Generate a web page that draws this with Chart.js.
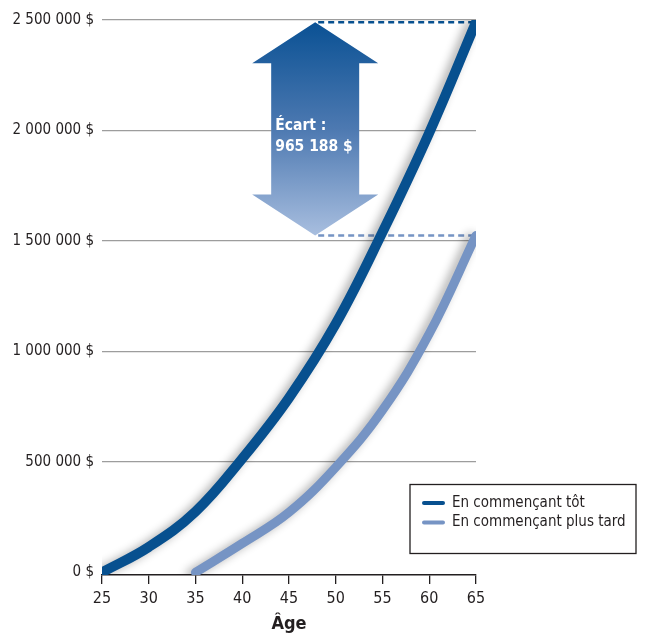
<!DOCTYPE html>
<html><head><meta charset="utf-8">
<script src="https://cdn.jsdelivr.net/npm/chart.js@4.4.0/dist/chart.umd.min.js"></script>
<style>html,body{margin:0;padding:0;background:#fff}#wrap{width:652px;height:635px;position:relative}</style>
</head><body><div id="wrap"><canvas id="c"></canvas></div>
<script>
// ---- data ----
const earlyAges = [25, 30, 35, 40, 45, 50, 55, 60, 65];
const earlyValues = [0, 115000, 275000, 515000, 790000, 1125000, 1540000, 1990000, 2490000];
const lateAges = [35, 40, 45, 50, 55, 60, 65];
const lateValues = [0, 131000, 272000, 476000, 734000, 1080000, 1524812];
const xTicks = [25, 30, 35, 40, 45, 50, 55, 60, 65];
const yTicks = [0, 500000, 1000000, 1500000, 2000000, 2500000];
const seriesLabels = ['En commençant tôt', 'En commençant plus tard'];
const gapLabel = ['Écart :', '965 188 $'];
const xTitle = 'Âge';

const FONT = "'Liberation Sans Narrow','Arial Narrow','DejaVu Sans Condensed',sans-serif";
const DARK = '#07508f';
const LIGHT = '#7694c4';
const TXT = '#231f20';

function fmt(n) { return String(n).replace(/\B(?=(\d{3})+(?!\d))/g, ' ') + ' $'; }

const shadowPlugin = {
  id: 'shadow',
  beforeDatasetDraw(chart) {
    const ctx = chart.ctx; ctx.save();
    ctx.shadowColor = 'rgba(0,0,0,0.32)'; ctx.shadowBlur = 10;
    ctx.shadowOffsetX = -5; ctx.shadowOffsetY = 2;
  },
  afterDatasetDraw(chart) { chart.ctx.restore(); }
};

const gapPlugin = {
  id: 'gap',
  beforeDatasetsDraw(chart) {
    const { ctx, scales: { x, y } } = chart;
    const topV = earlyValues[earlyValues.length - 1];
    const botV = lateValues[lateValues.length - 1];
    const yt = y.getPixelForValue(topV), yb = y.getPixelForValue(botV);
    const xe = x.getPixelForValue(earlyAges[earlyAges.length - 1]);
    const cx = x.getPixelForValue(47.8);
    const headH = 41, headW = 63, shaftW = 44;
    ctx.save();
    // dashed guides
    ctx.lineWidth = 2.5; ctx.setLineDash([6, 4]);
    ctx.strokeStyle = DARK;
    ctx.beginPath(); ctx.moveTo(cx + 3, yt); ctx.lineTo(xe, yt); ctx.stroke();
    ctx.strokeStyle = LIGHT;
    ctx.beginPath(); ctx.moveTo(cx + 3, yb); ctx.lineTo(xe, yb); ctx.stroke();
    ctx.setLineDash([]);
    // arrow
    const g = ctx.createLinearGradient(0, yt, 0, yb);
    g.addColorStop(0, '#0a5194'); g.addColorStop(0.5, '#4d79b1'); g.addColorStop(1, '#a8bedf');
    ctx.fillStyle = g;
    ctx.beginPath();
    ctx.moveTo(cx, yt);
    ctx.lineTo(cx + headW, yt + headH);
    ctx.lineTo(cx + shaftW, yt + headH);
    ctx.lineTo(cx + shaftW, yb - headH);
    ctx.lineTo(cx + headW, yb - headH);
    ctx.lineTo(cx, yb);
    ctx.lineTo(cx - headW, yb - headH);
    ctx.lineTo(cx - shaftW, yb - headH);
    ctx.lineTo(cx - shaftW, yt + headH);
    ctx.lineTo(cx - headW, yt + headH);
    ctx.closePath(); ctx.fill();
    // text
    ctx.fillStyle = '#ffffff';
    ctx.font = "bold 15.5px " + FONT;
    ctx.textAlign = 'left'; ctx.textBaseline = 'alphabetic';
    const mid = (yt + yb) / 2;
    ctx.fillText(gapLabel[0], cx - 40, mid + 1);
    ctx.fillText(gapLabel[1], cx - 40, mid + 22);
    ctx.restore();
  }
};

const legendPlugin = {
  id: 'boxLegend',
  afterDraw(chart) {
    const ctx = chart.ctx;
    ctx.save();
    ctx.strokeStyle = '#231f20'; ctx.lineWidth = 1.3;
    ctx.strokeRect(410, 484.5, 226, 69);
    const items = chart.data.datasets;
    items.forEach((ds, i) => {
      const yy = 503 + i * 19.5;
      ctx.strokeStyle = ds.borderColor; ctx.lineWidth = 4; ctx.lineCap = 'round';
      ctx.beginPath(); ctx.moveTo(424, yy); ctx.lineTo(443, yy); ctx.stroke();
      ctx.fillStyle = TXT; ctx.font = "15px " + FONT;
      ctx.textAlign = 'left'; ctx.textBaseline = 'middle';
      ctx.fillText(ds.label, 452, yy);
    });
    ctx.restore();
  }
};

new Chart(document.getElementById('c'), {
  type: 'line',
  data: {
    datasets: [
      { label: seriesLabels[0], data: earlyAges.map((a, i) => ({ x: a, y: earlyValues[i] })),
        borderColor: DARK, borderWidth: 10, borderCapStyle: 'round', borderJoinStyle: 'round',
        pointRadius: 0, tension: 0.4, fill: false },
      { label: seriesLabels[1], data: lateAges.map((a, i) => ({ x: a, y: lateValues[i] })),
        borderColor: LIGHT, borderWidth: 9, borderCapStyle: 'round', borderJoinStyle: 'round',
        pointRadius: 0, tension: 0.4, fill: false }
    ]
  },
  options: {
    responsive: true, maintainAspectRatio: false, animation: false,
    layout: { padding: { top: 20, right: 176, bottom: 0, left: 0 } },
    plugins: { legend: { display: false }, tooltip: { enabled: false } },
    scales: {
      x: {
        type: 'linear', min: 25, max: 65,
        afterBuildTicks(ax) { ax.ticks = xTicks.map(v => ({ value: v })); },
        afterFit(ax) { ax.height = 60; },
        grid: { drawOnChartArea: false, drawTicks: true, tickLength: 9, color: '#231f20', lineWidth: 1.3 },
        border: { display: true, color: '#231f20', width: 1.5 },
        ticks: { color: TXT, font: { family: FONT, size: 16 }, padding: 5, maxRotation: 0 },
        title: { display: true, text: xTitle, color: TXT, font: { family: FONT, size: 18, weight: 'bold' }, padding: { top: 0, bottom: 0 } }
      },
      y: {
        min: -12000, max: 2500000,
        afterBuildTicks(ax) { ax.ticks = yTicks.map(v => ({ value: v })); },
        afterFit(ax) { ax.width = 102; },
        grid: { drawTicks: false, color: (c) => (c.tick && c.tick.value === 0) ? 'rgba(0,0,0,0)' : '#9d9d9d', lineWidth: 1.2 },
        border: { display: false },
        ticks: { color: TXT, font: { family: FONT, size: 15 }, padding: 8, callback: (v) => fmt(v) }
      }
    }
  },
  plugins: [shadowPlugin, gapPlugin, legendPlugin]
});
</script>
</body></html>
